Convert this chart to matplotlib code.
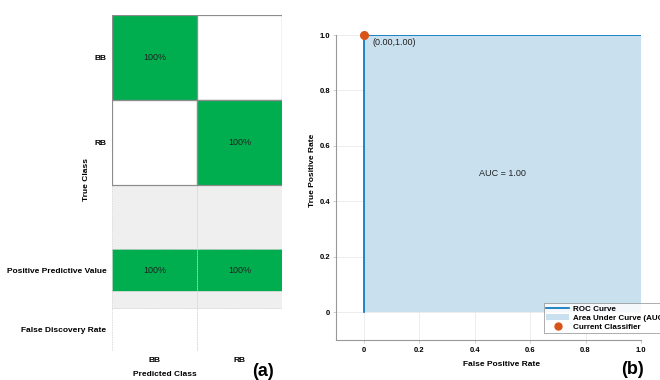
import matplotlib
matplotlib.use("Agg")
import matplotlib.pyplot as plt
from matplotlib.patches import Rectangle, Patch
from matplotlib.lines import Line2D
import numpy as np

# ---------------- data ----------------
classes = ["BB", "RB"]
conf_pct = [[100, 0], [0, 100]]           # true x predicted, percent
ppv_pct = [100, 100]
fdr_pct = [0, 0]
row_labels = ["BB", "RB", "", "Positive Predictive Value", "", "False Discovery Rate"]
row_heights = [1.0, 1.0, 0.75, 0.5, 0.2, 0.5]

roc_fpr = [0.0, 0.0, 1.0]
roc_tpr = [0.0, 1.0, 1.0]
op_point = (0.0, 1.0)
auc_value = 1.00
x_ticks = [0, 0.2, 0.4, 0.6, 0.8, 1.0]
x_ticklabels = ["0", "0.2", "0.4", "0.6", "0.8", "1.0"]
y_ticks = [0, 0.2, 0.4, 0.6, 0.8, 1.0]
y_ticklabels = ["0", "0.2", "0.4", "0.6", "0.8", "1.0"]

GREEN = "#00AE4F"
GRAY = "#EFEFEF"
ROC_BLUE = "#0072BD"
FILL_BLUE = "#C9E0EF"
ORANGE = "#D95319"

plt.rcParams["font.family"] = ["Liberation Sans", "DejaVu Sans"]

fig = plt.figure(figsize=(6.6, 3.8), dpi=100)

# ---------------- (a) confusion matrix ----------------
axa = fig.add_axes([112/660, 1-351/380, 170/660, 336/380])
bounds = np.concatenate([[0], np.cumsum(row_heights)])
total = bounds[-1]
axa.set_xlim(0, 2)
axa.set_ylim(total, 0)

def cell(col, r, val, kind):
    y0 = bounds[r]
    h = row_heights[r]
    if kind == "gap":
        fc = GRAY
    else:
        fc = GREEN if val > 0 else "white"
    if kind == "cm":
        axa.add_patch(Rectangle((col, y0), 1, h, facecolor=fc, edgecolor="#8c8c8c", lw=0.8, zorder=2))
    else:
        axa.add_patch(Rectangle((col, y0), 1, h, facecolor=fc, edgecolor="#cfcfcf", lw=0.6,
                                linestyle=(0, (1, 1)), zorder=1))
    if kind != "gap" and val > 0:
        axa.text(col + 0.5, y0 + h / 2, f"{val}%", ha="center", va="center", fontsize=6.5, color="#222222", zorder=3)

for r in range(2):
    for c in range(2):
        cell(c, r, conf_pct[r][c], "cm")
for c in range(2):
    cell(c, 2, 0, "gap")
    cell(c, 3, ppv_pct[c], "rate")
    cell(c, 4, 0, "gap")
    cell(c, 5, fdr_pct[c], "rate")
for r in range(2):
    for c in range(2):
        axa.add_patch(Rectangle((c, bounds[r]), 1, row_heights[r], fill=False, edgecolor="#8c8c8c", lw=0.8, zorder=4))

centers = [(bounds[i] + bounds[i + 1]) / 2 for i in range(len(row_heights))]
yt = [centers[i] for i, l in enumerate(row_labels) if l]
yl = [l for l in row_labels if l]
axa.set_yticks(yt)
axa.set_yticklabels(yl, fontsize=6, fontweight="bold")
axa.set_xticks([0.5, 1.5])
axa.set_xticklabels(classes, fontsize=6, fontweight="bold")
axa.tick_params(length=0, pad=4)
for s in axa.spines.values():
    s.set_visible(False)
fig.text(87/660, 1-180/380, "True Class", rotation=90, ha="center", va="center", fontsize=6, fontweight="bold")
fig.text(165/660, 1-375/380, "Predicted Class", ha="center", va="center", fontsize=6, fontweight="bold")
fig.text(263/660, 1-371/380, "(a)", ha="center", va="center", fontsize=13, fontweight="bold")

# ---------------- (b) ROC ----------------
axb = fig.add_axes([336/660, 1-340/380, 305/660, 305/380])
axb.set_xlim(-0.1, 1.0)
axb.set_ylim(-0.1, 1.0)
axb.fill_between(roc_fpr, roc_tpr, 0, color=FILL_BLUE, lw=0, zorder=1, label="Area Under Curve (AUC)")
axb.plot(roc_fpr, roc_tpr, color=ROC_BLUE, lw=1.2, zorder=3, label="ROC Curve")
axb.plot([op_point[0]], [op_point[1]], "o", color=ORANGE, ms=5.5, zorder=5, clip_on=False, label="Current Classifier")
axb.text(op_point[0] + 0.03, op_point[1] - 0.01, f"({op_point[0]:.2f},{op_point[1]:.2f})", ha="left", va="top", fontsize=6.5, color="#222222")
axb.text(0.5, 0.5, f"AUC = {auc_value:.2f}", ha="center", va="center", fontsize=6.5, color="#222222")
axb.set_xticks(x_ticks)
axb.set_xticklabels(x_ticklabels, fontsize=5.5, fontweight="bold")
axb.set_yticks(y_ticks)
axb.set_yticklabels(y_ticklabels, fontsize=5.5, fontweight="bold")
axb.tick_params(length=2, width=0.5, color="#bbbbbb", pad=2)
axb.tick_params(axis="x", pad=3)
axb.grid(True, color="#e6e6e6", lw=0.5, zorder=0)
axb.set_axisbelow(True)
for k in ["top", "right"]:
    axb.spines[k].set_visible(False)
for k in ["left", "bottom"]:
    axb.spines[k].set_color("#999999")
    axb.spines[k].set_linewidth(0.8)
fig.text(313/660, 1-170/380, "True Positive Rate", rotation=90, ha="center", va="center", fontsize=6, fontweight="bold")
fig.text(502/660, 1-364/380, "False Positive Rate", ha="center", va="center", fontsize=6, fontweight="bold")
fig.text(632/660, 1-369/380, "(b)", ha="center", va="center", fontsize=13, fontweight="bold")

handles = [Line2D([], [], color=ROC_BLUE, lw=1.2),
           Patch(facecolor=FILL_BLUE, edgecolor="none"),
           Line2D([], [], marker="o", color=ORANGE, lw=0, ms=5)]
leg = axb.legend(handles, ["ROC Curve", "Area Under Curve (AUC)", "Current Classifier"],
                 loc="lower left", bbox_to_anchor=((544-336)/305, (340-333)/305),
                 fontsize=5.8, frameon=True, fancybox=False, borderpad=0.3, labelspacing=0.15,
                 handlelength=2.8, handletextpad=0.5, borderaxespad=0)
leg.get_frame().set_edgecolor("#888888")
leg.get_frame().set_linewidth(0.6)
for t in leg.get_texts():
    t.set_fontweight("bold")

fig.savefig("out.png", dpi=100)
